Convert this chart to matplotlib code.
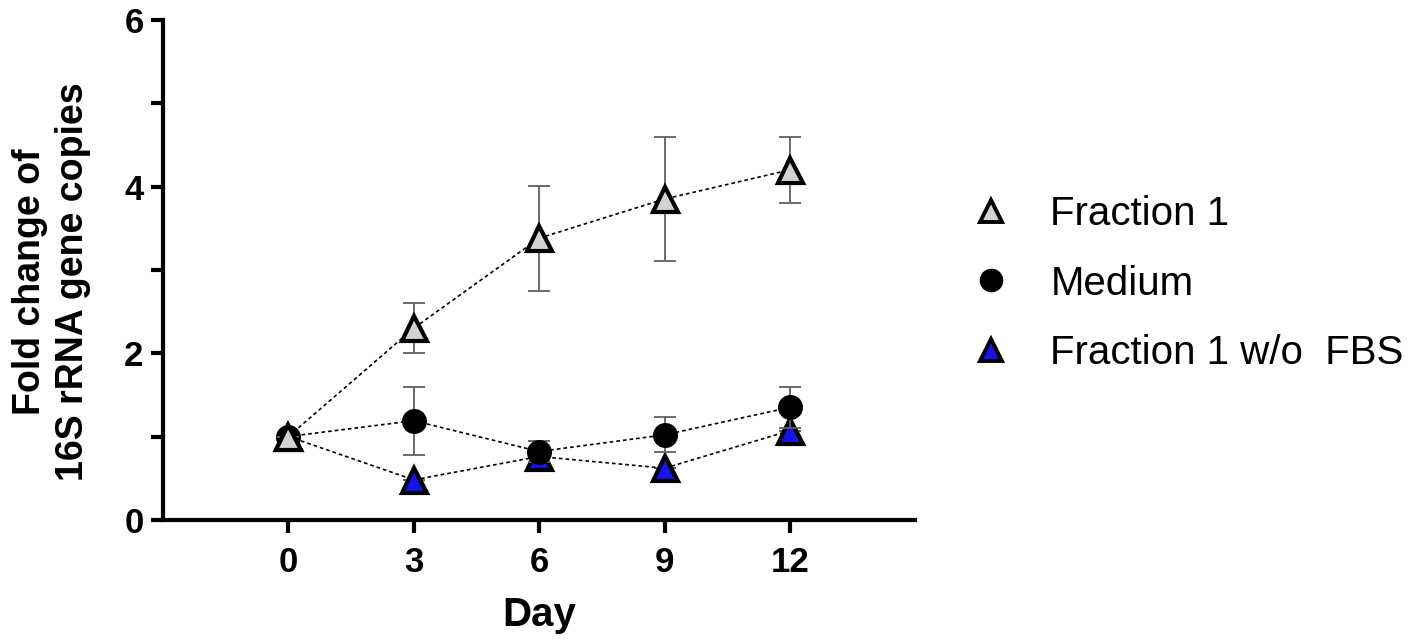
import numpy as np
import matplotlib.pyplot as plt
from matplotlib.lines import Line2D

plt.rcParams['font.family'] = ['Liberation Sans', 'DejaVu Sans']

# Data
days = [0, 3, 6, 9, 12]

fraction1 = [1.0, 2.30, 3.38, 3.85, 4.20]
fraction1_err = [0.0, 0.30, 0.63, 0.74, 0.40]

medium = [1.0, 1.19, 0.82, 1.02, 1.35]
medium_err = [0.0, 0.41, 0.13, 0.21, 0.25]

fraction1_nofbs = [1.0, 0.48, 0.76, 0.62, 1.07]
fraction1_nofbs_err = [0.0, 0.0, 0.0, 0.0, 0.0]

labels = ['Fraction 1', 'Medium', 'Fraction 1 w/o  FBS']

fig = plt.figure(figsize=(14.17, 6.41), dpi=100)
ax = fig.add_axes([0.115, 0.189, 0.531, 0.780])

err_style = dict(ecolor='#606060', elinewidth=1.3, capsize=8, capthick=1.3)
line_style = dict(color='black', linestyle=(0, (2.2, 1.8)), linewidth=1.2)

# Fraction 1 w/o FBS (drawn first, underneath)
ax.errorbar(days, fraction1_nofbs, yerr=fraction1_nofbs_err, fmt='none', zorder=2, **err_style)
ax.plot(days, fraction1_nofbs, zorder=3, **line_style)
ax.plot(days, fraction1_nofbs, linestyle='none', marker='^', markersize=18,
        markerfacecolor='#1414e6', markeredgecolor='black', markeredgewidth=3.0, zorder=4)

# Medium
ax.errorbar(days, medium, yerr=medium_err, fmt='none', zorder=5, **err_style)
ax.plot(days, medium, zorder=6, **line_style)
ax.plot(days, medium, linestyle='none', marker='o', markersize=16.5,
        markerfacecolor='black', markeredgecolor='black', markeredgewidth=1.5, zorder=7)

# Fraction 1
ax.errorbar(days, fraction1, yerr=fraction1_err, fmt='none', zorder=8, **err_style)
ax.plot(days, fraction1, zorder=9, **line_style)
ax.plot(days, fraction1, linestyle='none', marker='^', markersize=18,
        markerfacecolor='#d3d3d3', markeredgecolor='black', markeredgewidth=3.0, zorder=10)

ax.set_xlim(-3, 15)
ax.set_ylim(0, 6)
ax.set_xticks(days)
ax.set_yticks([0, 2, 4, 6])
ax.set_yticks([1, 3, 5], minor=True)

for side in ['top', 'right']:
    ax.spines[side].set_visible(False)
for side in ['left', 'bottom']:
    ax.spines[side].set_linewidth(3.0)

ax.tick_params(axis='both', which='major', length=9, width=3.0, direction='out',
               labelsize=25)
ax.tick_params(axis='x', which='major', pad=10)
ax.tick_params(axis='y', which='major', pad=5)
ax.tick_params(axis='y', which='minor', length=9, width=3.0, direction='out')
for lbl in ax.get_xticklabels() + ax.get_yticklabels():
    lbl.set_fontweight('bold')

ax.set_xlabel('Day', fontsize=29, fontweight='bold', labelpad=12)
ax.set_ylabel('Fold change of\n16S rRNA gene copies', fontsize=27, fontweight='bold',
              linespacing=1.25)
ax.yaxis.set_label_coords(-0.096, 0.477)

handles = [
    Line2D([], [], linestyle='none', marker='^', markersize=16, markerfacecolor='#d3d3d3',
           markeredgecolor='black', markeredgewidth=2.8),
    Line2D([], [], linestyle='none', marker='o', markersize=16, markerfacecolor='black',
           markeredgecolor='black'),
    Line2D([], [], linestyle='none', marker='^', markersize=16, markerfacecolor='#1414e6',
           markeredgecolor='black', markeredgewidth=2.8),
]
fig.legend(handles, labels, loc='upper left', bbox_to_anchor=(0.6853, 0.696),
           frameon=False, fontsize=29, handlelength=1.0, handletextpad=0.97,
           labelspacing=0.786, borderaxespad=0, borderpad=0)

fig.savefig('out.png', dpi=100)
